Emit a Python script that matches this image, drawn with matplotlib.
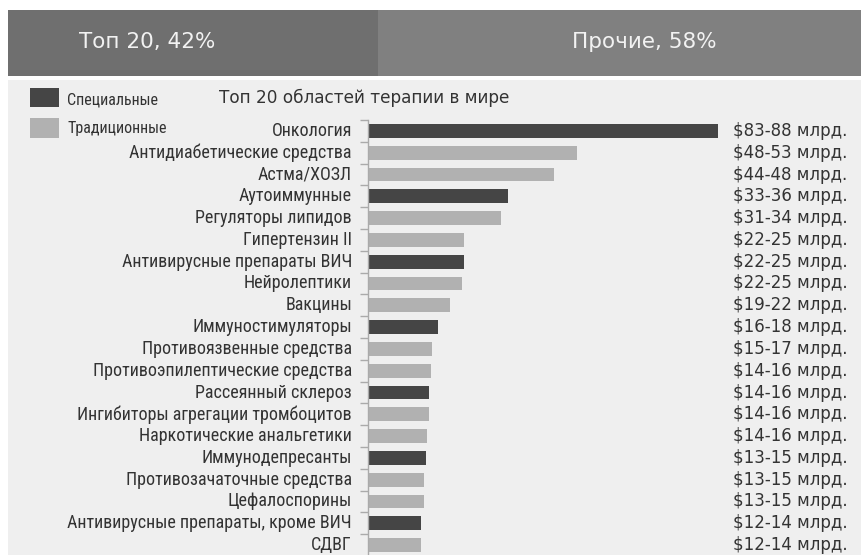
import matplotlib
matplotlib.use("Agg")
import matplotlib.pyplot as plt
from matplotlib.patches import Rectangle
import matplotlib.transforms as mtransforms
from matplotlib import font_manager

categories = [
    "Онкология", "Антидиабетические средства", "Астма/ХОЗЛ", "Аутоиммунные",
    "Регуляторы липидов", "Гипертензин II", "Антивирусные препараты ВИЧ",
    "Нейролептики", "Вакцины", "Иммуностимуляторы", "Противоязвенные средства",
    "Противоэпилептические средства", "Рассеянный склероз",
    "Ингибиторы агрегации тромбоцитов", "Наркотические анальгетики",
    "Иммунодепресанты", "Противозачаточные средства", "Цефалоспорины",
    "Антивирусные препараты, кроме ВИЧ", "СДВГ",
]
values = [85.5, 51, 45.5, 34.2, 32.5, 23.5, 23.5, 23, 20, 17, 15.6, 15.4,
          15, 15, 14.4, 14.1, 13.7, 13.7, 13, 13]
special = [1, 0, 0, 1, 0, 0, 1, 0, 0, 1, 0, 0, 1, 0, 0, 1, 0, 0, 1, 0]
value_labels = [
    "$83-88 млрд.", "$48-53 млрд.", "$44-48 млрд.", "$33-36 млрд.",
    "$31-34 млрд.", "$22-25 млрд.", "$22-25 млрд.", "$22-25 млрд.",
    "$19-22 млрд.", "$16-18 млрд.", "$15-17 млрд.", "$14-16 млрд.",
    "$14-16 млрд.", "$14-16 млрд.", "$14-16 млрд.", "$13-15 млрд.",
    "$13-15 млрд.", "$13-15 млрд.", "$12-14 млрд.", "$12-14 млрд.",
]
header_left = "Топ 20, 42%"
header_right = "Прочие, 58%"
title = "Топ 20 областей терапии в мире"
legend_labels = ["Специальные", "Традиционные"]

DARK = "#454545"
LIGHT = "#b1b1b1"
BG = "#efefef"
TXT = "#333333"

names = {f.name for f in font_manager.fontManager.ttflist}
narrow = "DejaVu Sans"
for cand in ["Roboto Condensed", "PT Sans Narrow", "Archivo Narrow"]:
    if cand in names:
        narrow = cand
        break
plt.rcParams['font.family'] = ['DejaVu Sans']

W, H = 862, 555
fig = plt.figure(figsize=(W / 100, H / 100), dpi=100, facecolor="white")

def fx(px):
    return px / W

def fy(py):
    return 1 - py / H

# background panel
fig.patches.append(Rectangle((fx(8), 0), fx(854), fy(80), transform=fig.transFigure,
                             facecolor=BG, edgecolor="none", zorder=-2))
# header band
fig.patches.append(Rectangle((fx(8), fy(76)), fx(370), 66 / H, transform=fig.transFigure,
                             facecolor="#6f6f6f", edgecolor="none", zorder=-1))
fig.patches.append(Rectangle((fx(378), fy(76)), fx(484), 66 / H, transform=fig.transFigure,
                             facecolor="#808080", edgecolor="none", zorder=-1))
fig.text(fx(79), fy(42), header_left, color="#f2f2f2", fontsize=15.5, va="center", ha="left")
fig.text(fx(572), fy(42), header_right, color="#f2f2f2", fontsize=15.5, va="center", ha="left")

# legend
fig.patches.append(Rectangle((fx(30), fy(107)), fx(29), 19 / H, transform=fig.transFigure,
                             facecolor=DARK, edgecolor="none"))
fig.patches.append(Rectangle((fx(30), fy(138)), fx(29), 20 / H, transform=fig.transFigure,
                             facecolor=LIGHT, edgecolor="none"))
fig.text(fx(67), fy(100), legend_labels[0], color=TXT, fontsize=11.5, family=narrow,
         va="center", ha="left")
fig.text(fx(67), fy(128), legend_labels[1], color=TXT, fontsize=11.5, family=narrow,
         va="center", ha="left")
fig.text(fx(219), fy(98), title, color=TXT, fontsize=12.2, va="center", ha="left")

# axes
ax_top, ax_bot = 120, 556
ax = fig.add_axes([fx(368), fy(ax_bot), fx(718 - 368), (ax_bot - ax_top) / H])
ax.set_zorder(2)
ax.set_facecolor("none")
n = len(categories)
ypos = list(range(n))
colors = [DARK if s else LIGHT for s in special]
ax.barh(ypos, values, height=0.64, color=colors, edgecolor="none")
ax.set_xlim(0, values[0])
ax.set_ylim(n - 0.5, -0.5)
for sp in ["top", "right", "bottom"]:
    ax.spines[sp].set_visible(False)
ax.spines["left"].set_color("#aaaaaa")
ax.spines["left"].set_linewidth(1.0)
ax.set_xticks([])
ax.set_yticks([i - 0.5 for i in range(n + 1)])
ax.set_yticklabels([])
ax.tick_params(axis="y", length=6, color="#aaaaaa", width=1.0)
lab_trans = mtransforms.blended_transform_factory(fig.transFigure, ax.transData)
for i, c in enumerate(categories):
    ax.text(fx(352), i, c, transform=lab_trans, ha="right", va="center",
            fontsize=13, family=narrow, color=TXT, clip_on=False)
for i, lab in enumerate(value_labels):
    ax.text(fx(733), i, lab, transform=lab_trans, ha="left", va="center", fontsize=12,
            color=TXT, clip_on=False)

fig.savefig("out.png", dpi=100, facecolor="white")
